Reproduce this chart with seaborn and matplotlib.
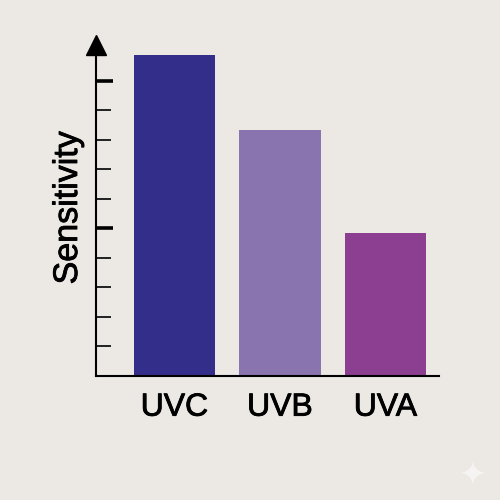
"""Sensibilidade por faixa de UV."""
import matplotlib.patheffects as pe
import matplotlib.pyplot as plt
import pandas as pd
import seaborn as sns

BANDS = ["UVC", "UVB", "UVA"]
SENSITIVITY = [10.88, 8.34, 4.85]
BAR_COLORS = ["#332E8A", "#8A74B0", "#8C3F90"]
MINOR_TICKS = [1, 2, 3, 4, 6, 7, 8, 9]
MAJOR_TICKS = [5, 10]

BACKGROUND = "#ECE8E4"

sns.set_theme(style="white")
plt.rcParams["font.family"] = ["Liberation Sans", "DejaVu Sans"]

df = pd.DataFrame({"Band": BANDS, "Sensitivity": SENSITIVITY})

fig = plt.figure(figsize=(5, 5), dpi=100, facecolor=BACKGROUND)
ax = fig.add_axes([96 / 500, 124 / 500, 343 / 500, 331 / 500], facecolor=BACKGROUND)

sns.barplot(
    data=df,
    x="Band",
    y="Sensitivity",
    hue="Band",
    palette=BAR_COLORS,
    width=0.77,
    saturation=1,
    legend=False,
    linewidth=0,
    ax=ax,
)

ax.set_xlim(-0.744, 2.507)
ax.set_ylim(0, 11.22)

ax.spines["top"].set_visible(False)
ax.spines["right"].set_visible(False)
ax.spines["left"].set_linewidth(1.5)
ax.spines["bottom"].set_linewidth(1.5)
ax.spines["left"].set_color("black")
ax.spines["bottom"].set_color("black")

ax.set_yticks(MAJOR_TICKS)
ax.set_yticks(MINOR_TICKS, minor=True)
ax.set_yticklabels([])
ax.tick_params(axis="y", which="major", direction="in", length=12.5, width=2.6, color="black", left=True)
ax.tick_params(axis="y", which="minor", direction="in", length=10.5, width=1.2, color="black", left=True)
ax.tick_params(axis="x", length=0, pad=12, labelsize=23, labelcolor="black")

ax.set_xlabel("")
ax.set_ylabel("Sensitivity", fontsize=24.5, color="black")
ax.yaxis.set_label_coords(-0.035, 0.508)

# texto um pouco mais grosso, como no original
negrito = [pe.withStroke(linewidth=0.6, foreground="black")]
ax.yaxis.label.set_path_effects(negrito)
for rotulo in ax.get_xticklabels():
    rotulo.set_path_effects(negrito)

# seta no topo do eixo y
ax.plot(0, 1, marker="^", markersize=14, color="black", transform=ax.transAxes, clip_on=False)

# marca no canto inferior direito
fig.text(473 / 500, 24 / 500, "\u2726", family="DejaVu Sans", fontsize=24, color="#F6F4F2", ha="center", va="center")

fig.savefig("out.png", dpi=100, facecolor=BACKGROUND)
plt.close(fig)
